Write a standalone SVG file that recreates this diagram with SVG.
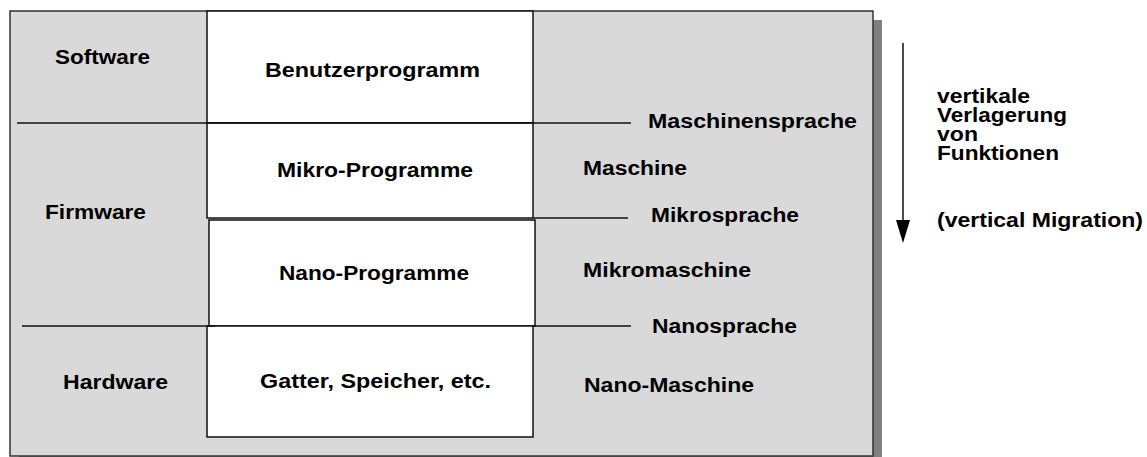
<svg xmlns="http://www.w3.org/2000/svg" width="1147" height="457" viewBox="0 0 1147 457">
<style>
text{font-family:"Liberation Sans",Arial,sans-serif;font-weight:bold;font-size:20px;fill:#000}
.box{fill:#fff;stroke:#111;stroke-width:1.5}
.ln{stroke:#111;stroke-width:1.5;fill:none}
</style>
<rect width="1147" height="457" fill="#fff"/>
<g id="frame">
<rect x="19" y="20" width="863" height="445" fill="#808080"/>
<rect x="10" y="11" width="863" height="445" fill="#d9d9d9" stroke="#333" stroke-width="1.5"/>
</g>
<g id="software"><text x="55" y="64" textLength="95" lengthAdjust="spacingAndGlyphs">Software</text></g>
<g id="firmware"><text x="45" y="219" textLength="101" lengthAdjust="spacingAndGlyphs">Firmware</text></g>
<g id="hardware"><text x="63" y="389" textLength="105" lengthAdjust="spacingAndGlyphs">Hardware</text></g>
<g id="benutzerprogramm"><rect class="box" x="207" y="11" width="326" height="112"/><text x="265" y="77" textLength="215" lengthAdjust="spacingAndGlyphs">Benutzerprogramm</text></g>
<g id="mikroprogramme"><rect class="box" x="207" y="123" width="326" height="95"/><text x="277" y="177" textLength="196" lengthAdjust="spacingAndGlyphs">Mikro-Programme</text></g>
<g id="nanoprogramme"><rect class="box" x="209" y="220" width="326" height="106"/><text x="279" y="280" textLength="190" lengthAdjust="spacingAndGlyphs">Nano-Programme</text></g>
<g id="gatter"><rect class="box" x="207" y="326" width="326" height="111"/><text x="260" y="388" textLength="231" lengthAdjust="spacingAndGlyphs">Gatter, Speicher, etc.</text></g>
<g id="connectors">
<line class="ln" x1="17" y1="123" x2="631" y2="123"/>
<line class="ln" x1="533" y1="218" x2="628" y2="218"/>
<line class="ln" x1="22" y1="326" x2="215" y2="326"/>
<line class="ln" x1="533" y1="326" x2="631" y2="326"/>
<line class="ln" x1="903" y1="43" x2="903" y2="222"/>
<polygon points="896,220 910,220 903,243" fill="#000"/>
</g>
<g id="levels">
<text x="648" y="128" textLength="209" lengthAdjust="spacingAndGlyphs">Maschinensprache</text>
<text x="583" y="175" textLength="104" lengthAdjust="spacingAndGlyphs">Maschine</text>
<text x="651" y="222" textLength="148" lengthAdjust="spacingAndGlyphs">Mikrosprache</text>
<text x="583" y="277" textLength="168" lengthAdjust="spacingAndGlyphs">Mikromaschine</text>
<text x="652" y="333" textLength="145" lengthAdjust="spacingAndGlyphs">Nanosprache</text>
<text x="584" y="392" textLength="170" lengthAdjust="spacingAndGlyphs">Nano-Maschine</text>
</g>
<g id="migration">
<text x="937" y="103" textLength="93" lengthAdjust="spacingAndGlyphs">vertikale</text>
<text x="937" y="122" textLength="130" lengthAdjust="spacingAndGlyphs">Verlagerung</text>
<text x="937" y="141" textLength="41" lengthAdjust="spacingAndGlyphs">von</text>
<text x="937" y="160" textLength="122" lengthAdjust="spacingAndGlyphs">Funktionen</text>
<text x="937" y="227" textLength="206" lengthAdjust="spacingAndGlyphs">(vertical Migration)</text>
</g>
</svg>
